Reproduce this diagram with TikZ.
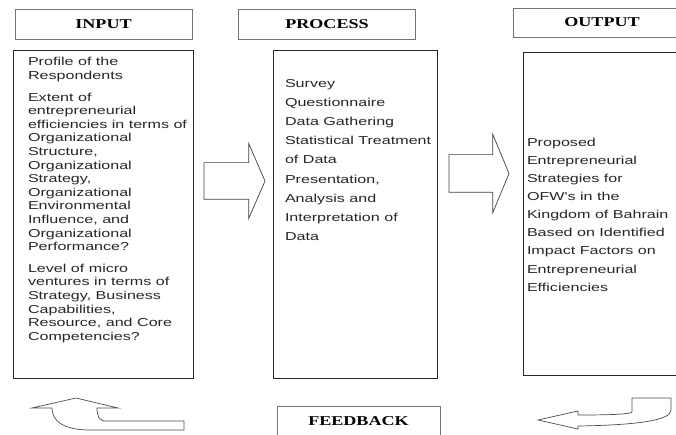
\documentclass[tikz,border=0pt]{standalone}
\usepackage{fontspec}
\newfontfamily\bodyfont[FakeStretch=1.4]{Liberation Sans}
\newfontfamily\headfont[FakeStretch=1.34]{Liberation Serif}
\usetikzlibrary{shapes.arrows, positioning}

\begin{document}
\begin{tikzpicture}[
  x=1pt, y=-1pt,
  every node/.style={inner sep=0pt, outer sep=0pt},
  header/.style={rectangle, draw=black!55, line width=0.8pt, minimum width=177pt, minimum height=30pt, font=\headfont\bfseries\fontsize{13.5}{15}\selectfont},
  panel/.style={rectangle, draw=black!85, line width=0.9pt, anchor=north west},
  body/.style={anchor=north west, align=left, text=black!85},
  blockarrow/.style={single arrow, draw=black!75, line width=0.7pt, single arrow head indent=0pt, inner xsep=0pt, anchor=tail},
  curvy/.style={draw=black!70, line width=0.7pt},
]
\useasboundingbox (0,0) rectangle (676,435);
\clip (0,0) rectangle (676,435);

% Headers
\node[header] (inhead) at (103.5,24) {INPUT};
\node[header] (prochead) at (327,24) {PROCESS};
\node[header, minimum height=29pt] (outhead) at (602,22.5) {OUTPUT};

% Panels
\node[panel, minimum width=180pt, minimum height=328pt] (inbox) at (13,50) {};
\node[panel, minimum width=164pt, minimum height=328pt] (procbox) at (273,50) {};
\node[panel, minimum width=180pt, minimum height=323pt] (outbox) at (523,52) {};

% Input text
\node[body, font=\bodyfont\fontsize{11.5}{13.6}\selectfont] (intext) at ([xshift=15pt, yshift=-7.5pt]inbox.north west) {
  Profile of the\\
  Respondents\\[8pt]
  Extent of\\
  entrepreneurial\\
  efficiencies in terms of\\
  Organizational\\
  Structure,\\
  Organizational\\
  Strategy,\\
  Organizational\\
  Environmental\\
  Influence, and\\
  Organizational\\
  Performance?\\[8pt]
  Level of micro\\
  ventures in terms of\\
  Strategy, Business\\
  Capabilities,\\
  Resource, and Core\\
  Competencies?
};

% Process text
\node[body, font=\bodyfont\fontsize{11.5}{19.2}\selectfont] (proctext) at ([xshift=12pt, yshift=-29pt]procbox.north west) {
  Survey\\
  Questionnaire\\
  Data Gathering\\
  Statistical Treatment\\
  of Data\\
  Presentation,\\
  Analysis and\\
  Interpretation of\\
  Data
};

% Output text
\node[body, font=\bodyfont\fontsize{11.5}{18.1}\selectfont] (outtext) at ([xshift=4pt, yshift=-86pt]outbox.north west) {
  Proposed\\
  Entrepreneurial\\
  Strategies for\\
  OFW's in the\\
  Kingdom of Bahrain\\
  Based on Identified\\
  Impact Factors on\\
  Entrepreneurial\\
  Efficiencies
};

% Block arrows
\node[blockarrow, inner ysep=18pt, minimum height=61pt, single arrow head extend=19pt, single arrow tip angle=133] (arr1) at (204,181) {};
\node[blockarrow, inner ysep=18.5pt, minimum height=60pt, single arrow head extend=20.5pt, single arrow tip angle=135] (arr2) at (449,173.5) {};

% Feedback
\node[header, minimum width=163pt] (fb) at (358.5,421.5) {FEEDBACK};

% Curved arrows
\draw[curvy] (184,421) -- (106,421) .. controls (99,421) and (97,416) .. (97,408)
  -- (118,408) -- (76,398) -- (32,408) -- (52,408)
  .. controls (52,420) and (62,430) .. (90,430) -- (184,430) -- cycle;
\draw[curvy] (671,398) -- (632,398) -- (632,412) .. controls (630,414) and (615,415) .. (578,415)
  -- (578,411) -- (538,420) -- (578,429) -- (578,426)
  .. controls (640,425) and (671,420) .. (671,410) -- cycle;

\end{tikzpicture}
\end{document}
